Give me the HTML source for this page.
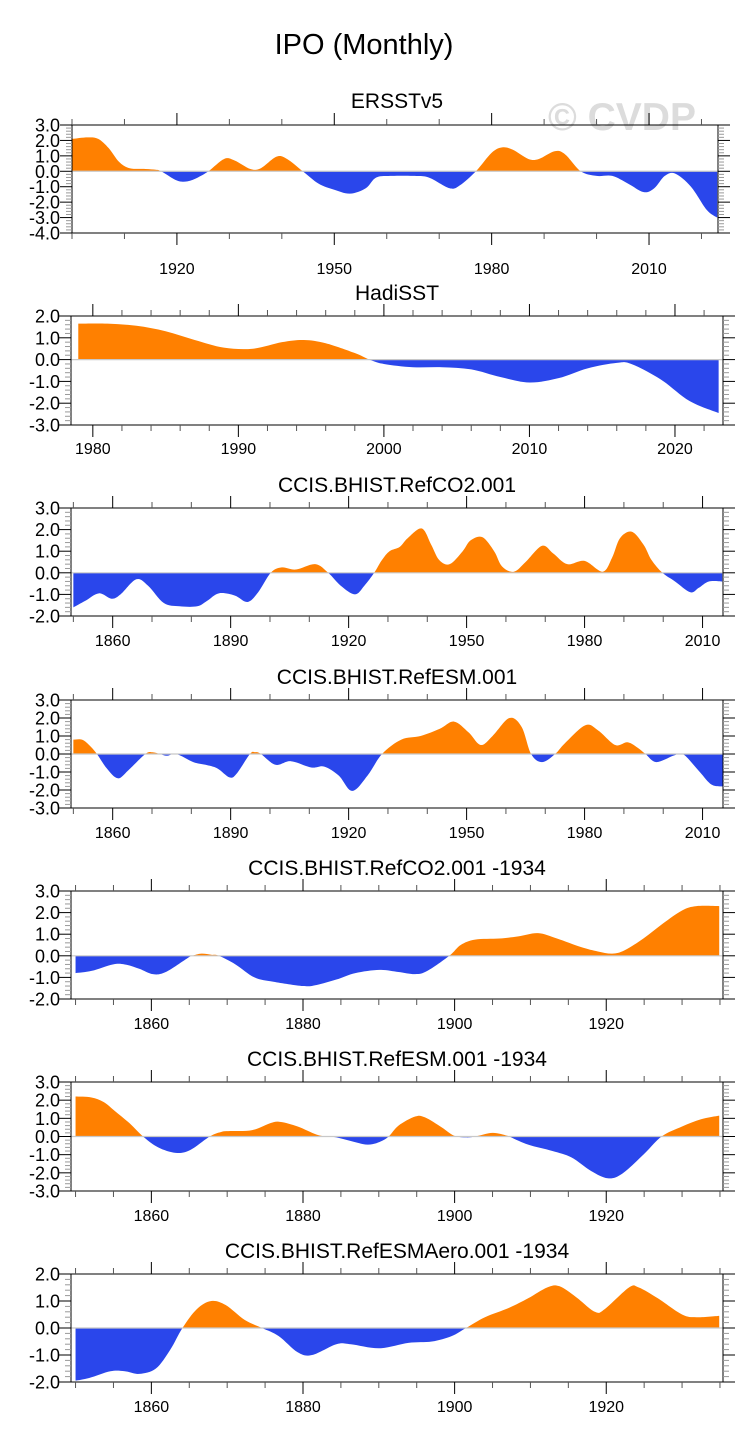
<!DOCTYPE html>
<html><head><meta charset="utf-8"><style>
html,body{margin:0;padding:0;background:#fff;}
svg{display:block;font-family:"Liberation Sans",Arial,sans-serif;}
</style></head><body>
<svg id="chart" width="750" height="1452" viewBox="0 0 750 1452" xmlns="http://www.w3.org/2000/svg">
<text x="364" y="54" font-size="29" text-anchor="middle">IPO (Monthly)</text>
<text x="622" y="130" font-size="39" font-weight="bold" fill="#dcdcdc" text-anchor="middle">© CVDP</text>
</svg>
<script>
// ---- data ----
const p1Years=[1900,1903,1905,1907,1909,1911,1914,1916,1917,1920,1922,1924,1926,1929,1931,1934,1936,1939,1941,1944,1947,1950,1953,1956,1958,1961,1965,1968,1972,1974,1977,1980,1982,1984,1987,1989,1992,1994,1997,2000,2003,2006,2009,2011,2013,2015,2018,2021,2023];
const p1Vals=[2.1,2.2,2.1,1.5,0.6,0.2,0.15,0.1,0,-0.6,-0.65,-0.4,0,0.8,0.7,0.15,0.2,0.95,0.8,0,-0.8,-1.2,-1.45,-1.1,-0.4,-0.3,-0.3,-0.4,-1.1,-0.9,0,1.2,1.55,1.4,0.8,0.8,1.3,1.1,0,-0.3,-0.3,-0.8,-1.35,-1.1,-0.3,-0.15,-1.0,-2.5,-3.0];
const p2Years=[1979,1981,1983,1985,1987,1989,1991,1993,1994.5,1996,1998,1999,2000,2002,2004,2006,2008,2010,2012,2014,2016,2017,2019,2021,2023];
const p2Vals=[1.65,1.65,1.55,1.3,0.9,0.55,0.5,0.8,0.9,0.75,0.3,0,-0.2,-0.35,-0.35,-0.45,-0.8,-1.05,-0.85,-0.4,-0.15,-0.2,-0.9,-1.9,-2.45];
const p3Years=[1850,1853,1856.5,1859.7,1862,1866,1869,1873,1877,1881.5,1884,1887,1891,1894.3,1897,1900.2,1903,1906.6,1911.5,1914.8,1918,1921.6,1924,1926.5,1928.5,1930.4,1933,1935,1938.6,1941,1943,1945.7,1949,1951,1954,1957,1959,1962,1965,1969.2,1972,1975.6,1980,1984.6,1987,1989,1992,1995,1997,1999.8,2003,2006.9,2009,2011.6,2015];
const p3Vals=[-1.6,-1.3,-0.95,-1.2,-1.0,-0.3,-0.6,-1.4,-1.55,-1.55,-1.3,-0.95,-1.05,-1.35,-0.9,0,0.25,0.15,0.4,0,-0.6,-1.0,-0.6,0,0.6,1.0,1.2,1.6,2.05,1.3,0.6,0.4,1.0,1.5,1.65,1.0,0.3,0.05,0.5,1.25,0.9,0.4,0.55,0.05,0.7,1.6,1.9,1.3,0.6,0,-0.4,-0.9,-0.7,-0.4,-0.4];
const p4Years=[1850,1852.2,1854,1856,1858.5,1861.3,1864,1868.3,1870.1,1872,1873.8,1876.2,1880.5,1883.6,1886.6,1889.7,1891.5,1894.9,1896.2,1897.7,1901.4,1905.3,1910.5,1913.8,1917.5,1920.9,1924.8,1928.5,1933.4,1938.3,1943.2,1946.8,1950.5,1953.6,1956.6,1960.9,1964,1966.4,1969.2,1972.5,1975,1980.2,1983.5,1987.8,1990.9,1993.5,1995.5,1998.2,2002.5,2004,2005.6,2009.3,2012.3,2015.4];
const p4Vals=[0.8,0.8,0.5,0,-0.8,-1.35,-0.9,0,0.1,0,-0.1,0,-0.45,-0.6,-0.8,-1.3,-1.1,0,0.1,0,-0.6,-0.4,-0.75,-0.7,-1.2,-2.05,-1.2,0,0.8,1.0,1.4,1.8,1.2,0.5,1.0,2.0,1.5,0,-0.45,0,0.6,1.6,1.3,0.5,0.65,0.35,0,-0.45,-0.1,0,-0.1,-1.0,-1.7,-1.8];
const p5Years=[1850,1852.1,1854.9,1856.5,1858.4,1860.2,1861.9,1864.8,1865.4,1866.6,1867.9,1868.9,1871.1,1873.6,1876.1,1880,1881.8,1884.4,1886.9,1890.1,1892.6,1894.8,1896.4,1899.3,1900.8,1902.7,1905.9,1908.4,1911,1913.5,1916.7,1918.9,1920.8,1922.4,1924.9,1927.5,1930,1931.9,1934.9];
const p5Vals=[-0.8,-0.7,-0.4,-0.4,-0.6,-0.85,-0.75,-0.1,0,0.1,0.05,0,-0.4,-1.0,-1.2,-1.4,-1.35,-1.1,-0.8,-0.65,-0.75,-0.85,-0.7,0,0.5,0.75,0.8,0.9,1.05,0.8,0.4,0.2,0.1,0.25,0.8,1.5,2.1,2.3,2.3];
const p6Years=[1850,1852.1,1853.7,1855.2,1857.2,1858.9,1860.9,1863.2,1865.1,1867.7,1869.2,1870.4,1873.3,1875.8,1877.1,1879.3,1881.8,1883.1,1884.4,1886.3,1888.5,1890.1,1891.3,1892.6,1894.8,1896.1,1898.3,1899.9,1901.5,1902.7,1905,1906.9,1907.2,1909.7,1912.9,1915.4,1918,1920.2,1922.1,1924.9,1927.3,1930,1932.5,1934.9];
const p6Vals=[2.2,2.15,1.9,1.4,0.7,0,-0.6,-0.9,-0.75,0,0.25,0.3,0.35,0.75,0.8,0.55,0.1,0,-0.05,-0.25,-0.45,-0.3,0,0.6,1.1,1.05,0.5,0.05,-0.05,0,0.2,0.05,0,-0.45,-0.8,-1.15,-1.9,-2.3,-2.05,-1.0,0,0.55,0.95,1.15];
const p7Years=[1850,1851.8,1854.6,1856.5,1858.4,1860.6,1862.5,1864.1,1866,1867.9,1869.8,1872.3,1874.6,1876.8,1879.3,1881.2,1884.4,1886.3,1890.1,1893.9,1897,1899.6,1901.5,1904,1907.2,1909.7,1912.2,1913.8,1916,1918.5,1919.8,1923,1924.3,1926.8,1930,1931.9,1934.9];
const p7Vals=[-1.95,-1.85,-1.6,-1.6,-1.7,-1.5,-0.8,0,0.7,1.0,0.85,0.3,0,-0.3,-0.9,-1.0,-0.6,-0.6,-0.75,-0.55,-0.5,-0.3,0,0.4,0.75,1.1,1.5,1.55,1.15,0.6,0.7,1.5,1.5,1.1,0.5,0.4,0.45];
const titles=["ERSSTv5","HadiSST","CCIS.BHIST.RefCO2.001","CCIS.BHIST.RefESM.001","CCIS.BHIST.RefCO2.001 -1934","CCIS.BHIST.RefESM.001 -1934","CCIS.BHIST.RefESMAero.001 -1934"];

// ---- layout (not data) ----
const NS="http://www.w3.org/2000/svg";
const svg=document.getElementById('chart');
const panels=[
 {years:p1Years,vals:p1Vals,x0:72,x1:718,xmin:1900,xmax:2023.15,top:125,bot:233,ymax:3,ymin:-4,major:30,majStart:1920,minor:10,minStart:1900,titleY:108,lab:41},
 {years:p2Years,vals:p2Vals,x0:71,x1:723,xmin:1978.5,xmax:2023.3,top:316,bot:425,ymax:2,ymin:-3,major:10,majStart:1980,minor:2,minStart:1980,titleY:300,lab:29},
 {years:p3Years,vals:p3Vals,x0:71,x1:723,xmin:1849.4,xmax:2015.2,top:508,bot:616,ymax:3,ymin:-2,major:30,majStart:1860,minor:10,minStart:1850,titleY:492,lab:30},
 {years:p4Years,vals:p4Vals,x0:71,x1:723,xmin:1849.4,xmax:2015.2,top:700,bot:808,ymax:3,ymin:-3,major:30,majStart:1860,minor:10,minStart:1850,titleY:684,lab:30},
 {years:p5Years,vals:p5Vals,x0:71,x1:723,xmin:1849.4,xmax:1935.4,top:891,bot:999,ymax:3,ymin:-2,major:20,majStart:1860,minor:5,minStart:1850,titleY:875,lab:30},
 {years:p6Years,vals:p6Vals,x0:71,x1:723,xmin:1849.4,xmax:1935.4,top:1082,bot:1191,ymax:3,ymin:-3,major:20,majStart:1860,minor:5,minStart:1850,titleY:1066,lab:30},
 {years:p7Years,vals:p7Vals,x0:71,x1:723,xmin:1849.4,xmax:1935.4,top:1274,bot:1382,ymax:2,ymin:-2,major:20,majStart:1860,minor:5,minStart:1850,titleY:1258,lab:30}
];
function mk(tag,attrs,parent){const e=document.createElementNS(NS,tag);for(const k in attrs)e.setAttribute(k,attrs[k]);(parent||svg).appendChild(e);return e;}

panels.forEach((p,i)=>{
  const g=mk('g',{});
  
  
  const xs=y=>p.x0+(y-p.xmin)/(p.xmax-p.xmin)*(p.x1-p.x0);
  const ys=v=>p.top+(p.ymax-v)/(p.ymax-p.ymin)*(p.bot-p.top);
  const t=mk('text',{x:397,y:p.titleY,'font-size':21,'text-anchor':'middle'},g);
  t.textContent=titles[i];
  
  
  const pts=p.years.map((yr,k)=>[xs(yr),ys(p.vals[k])]);
  let d='M'+pts[0][0]+','+ys(0)+' L'+pts[0][0]+','+pts[0][1];
  for(let k=0;k<pts.length-1;k++){
    const p0=pts[Math.max(0,k-1)],p1=pts[k],p2=pts[k+1],p3=pts[Math.min(pts.length-1,k+2)];
    const c1=[p1[0]+(p2[0]-p0[0])/6,p1[1]+(p2[1]-p0[1])/6];
    const c2=[p2[0]-(p3[0]-p1[0])/6,p2[1]-(p3[1]-p1[1])/6];
    d+=' C'+c1[0]+','+c1[1]+' '+c2[0]+','+c2[1]+' '+p2[0]+','+p2[1];
  }
  d+=' L'+pts[pts.length-1][0]+','+ys(0)+' Z';
  const z=ys(0);
  mk('clipPath',{id:'up'+i},g).appendChild(mk('rect',{x:p.x0,y:p.top,width:p.x1-p.x0,height:z-p.top},g));
  mk('clipPath',{id:'dn'+i},g).appendChild(mk('rect',{x:p.x0,y:z,width:p.x1-p.x0,height:p.bot-z},g));
  const a1=mk('path',{d:d,fill:'#ff8000','clip-path':'url(#up'+i+')'},g);
  
  
  const a2=mk('path',{d:d,fill:'#2a46eb','clip-path':'url(#dn'+i+')'},g);
  
  
  const zl=mk('line',{x1:p.x0,x2:p.x1,y1:z,y2:z,stroke:'#c8c8c8','stroke-width':1.2},g);
  
  
  const fr=mk('rect',{x:p.x0,y:p.top,width:p.x1-p.x0,height:p.bot-p.top,fill:'none',stroke:'#000','stroke-width':1},g);
  
  
  for(let yr=p.minStart;yr<=p.xmax;yr+=p.minor){
    const x=xs(yr);if(x<p.x0-0.5)continue;
    const isMaj=((yr-p.majStart)%p.major===0)&&yr>=p.majStart;
    const L=isMaj?12:6;
    mk('line',{x1:x,x2:x,y1:p.top,y2:p.top-L,stroke:isMaj?'#000':'#555','stroke-width':1},g);
    mk('line',{x1:x,x2:x,y1:p.bot,y2:p.bot+L,stroke:isMaj?'#000':'#555','stroke-width':1},g);
    if(isMaj){
      const tl=mk('text',{x:x,y:p.bot+p.lab,'font-size':16,'text-anchor':'middle'},g);
      tl.textContent=yr;
      
      
    }
  }
  for(let v=p.ymin;v<=p.ymax+1e-6;v+=0.2){
    const vv=Math.round(v*10)/10;const y=ys(vv);
    const isMaj=Math.abs(vv-Math.round(vv))<1e-6;
    const L=isMaj?12:6;
    mk('line',{x1:p.x0,x2:p.x0-L,y1:y,y2:y,stroke:isMaj?'#000':'#999','stroke-width':1},g);
    mk('line',{x1:p.x1,x2:p.x1+L,y1:y,y2:y,stroke:isMaj?'#000':'#999','stroke-width':1},g);
    if(isMaj){
      const tl=mk('text',{x:60,y:y+6.5,'font-size':18,'text-anchor':'end'},g);
      tl.textContent=vv.toFixed(1);
      
      
    }
  }
});
</script>
</body></html>
